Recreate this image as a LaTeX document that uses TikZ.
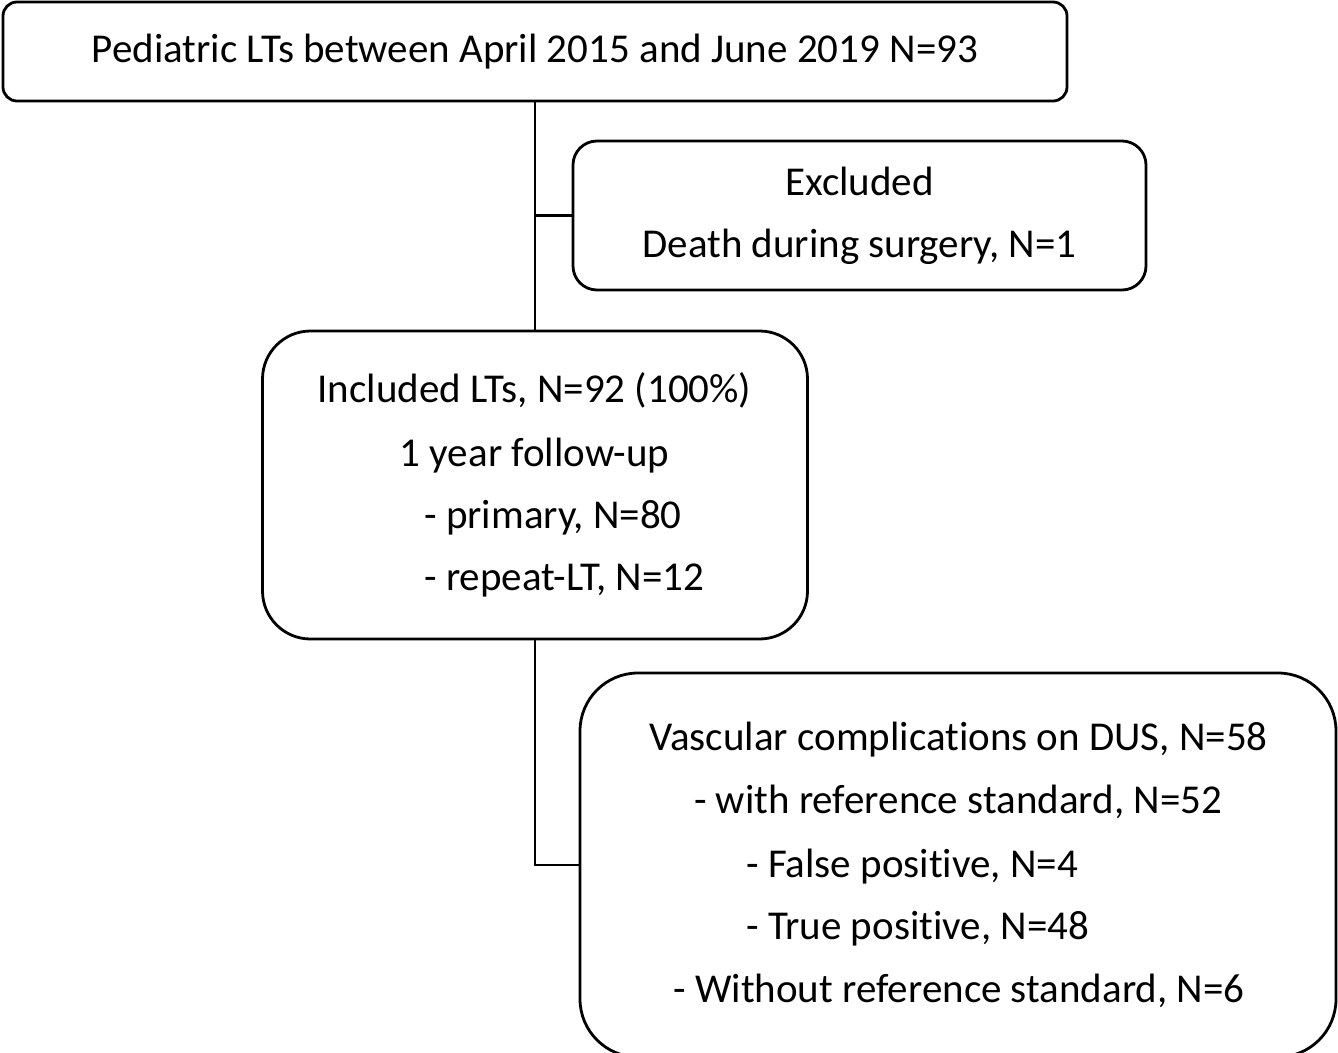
\documentclass[tikz,border=0pt]{standalone}
\usepackage{fontspec}
\setmainfont{Carlito}[RawFeature={-liga;-clig;-calt;-dlig}]
\begin{document}
\begin{tikzpicture}[x=1pt,y=-1pt,
  box/.style={draw=black, line width=2.8pt, fill=white, inner sep=0pt},
  txt/.style={inner sep=0pt, font=\fontsize{41}{49}\selectfont},
  link/.style={draw=black, line width=2.8pt}]
\useasboundingbox (0,0) rectangle (1338,1052);
\fill[white] (0,0) rectangle (1338,1052);
% boxes
\node[box, rounded corners=14pt, minimum width=1064pt, minimum height=99pt] (top) at (535,51.5) {};
\node[box, rounded corners=24pt, minimum width=573pt, minimum height=149pt] (excl) at (859.5,215.5) {};
\node[box, rounded corners=48pt, minimum width=545pt, minimum height=308pt] (incl) at (535,485) {};
\node[box, rounded corners=58pt, minimum width=756pt, minimum height=384pt] (vasc) at (958,865) {};
% connectors
\draw[link] (top.south) -- (incl.north);
\draw[link] (top.south |- excl.west) -- (excl.west);
\draw[link] (incl.south) |- (vasc.west);
% texts
\node[txt, anchor=base] (t1) at (535,62) {Pediatric LTs between April 2015 and June 2019 N=93};
\node[txt, anchor=base] (e1) at (859.5,195) {Excluded};
\node[txt, anchor=base] (e2) at (859.5,257) {Death during surgery, N=1};
\node[txt, anchor=base] (i1) at (534.5,402) {Included LTs, N=92 (100\%)};
\node[txt, anchor=base] (i2) at (534.5,466) {1 year follow-up};
\node[txt, anchor=base west] (i3) at (424,528) {- primary, N=80};
\node[txt, anchor=base west] (i4) at (424,590) {- repeat-LT, N=12};
\node[txt, anchor=base] (v1) at (958.5,750) {Vascular complications on DUS, N=58};
\node[txt, anchor=base] (v2) at (958,813) {- with reference standard, N=52};
\node[txt, anchor=base west] (v3) at (746,877) {- False positive, N=4};
\node[txt, anchor=base west] (v4) at (746,939) {- True positive, N=48};
\node[txt, anchor=base] (v5) at (959,1002) {- Without reference standard, N=6};
\end{tikzpicture}
\end{document}
